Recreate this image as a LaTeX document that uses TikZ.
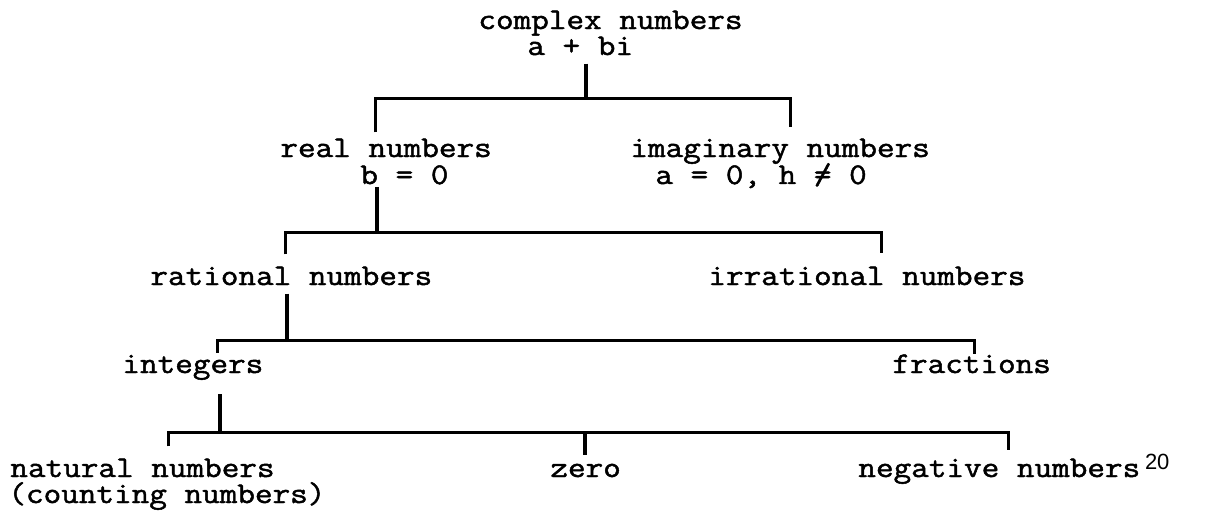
\documentclass[tikz,border=0pt]{standalone}
\usepackage{fontspec}
\newfontfamily\typefont[FakeBold=1.6,FakeStretch=1.14]{Latin Modern Mono}
\newfontfamily\notefont{Liberation Sans}
\usetikzlibrary{positioning}
\newcommand\neqtyped{\rlap{=}/}
\tikzset{
  lbl/.style={font=\typefont\fontsize{15}{18}\selectfont,inner sep=0pt,anchor=base west},
  note/.style={font=\notefont\fontsize{11}{13}\selectfont,inner sep=0pt,anchor=base west},
  stem/.style={line width=1.8pt},
  bar/.style={line width=1.5pt},
}
\begin{document}
\begin{tikzpicture}[x=0.5pt,y=-0.5pt]
  \useasboundingbox (0,0) rectangle (1207,514);
  % the sets, as typed
  \node[lbl] (cplx)  at (478,29)  {complex numbers};
  \node[lbl] (cplxf) at (527,55)  {a + bi};
  \node[lbl] (real)  at (280,157) {real numbers};
  \node[lbl] (realf) at (360,184) {b = 0};
  \node[lbl] (imag)  at (630,157) {imaginary numbers};
  \node[lbl] (imagf) at (655,184) {a = 0, h \neqtyped{} 0};
  \node[lbl] (rat)   at (150,285) {rational numbers};
  \node[lbl] (irr)   at (708,285) {irrational numbers};
  \node[lbl] (int)   at (122,373) {integers};
  \node[lbl] (frac)  at (892,373) {fractions};
  \node[lbl] (nat)   at (10,477)  {natural numbers};
  \node[lbl] (natc)  at (8,503)   {(counting numbers)};
  \node[lbl] (zero)  at (550,477) {zero};
  \node[lbl] (neg)   at (858,477) {negative numbers};
  \node[note] (negn) at ([xshift=2pt,yshift=4pt]neg.base east) {20};
  % brackets
  \coordinate (j1) at (586,98);  \coordinate (c1l) at (375,98);  \coordinate (c1r) at (790,98);
  \coordinate (j2) at (377,232); \coordinate (c2l) at (285,232); \coordinate (c2r) at (881,232);
  \coordinate (j3) at (287,340); \coordinate (c3l) at (217,340); \coordinate (c3r) at (974,340);
  \coordinate (j4) at (220,432); \coordinate (c4l) at (168,432); \coordinate (c4r) at (1008,432);
  \coordinate (c4m) at (585,432);
  \draw[stem,shorten <=4pt] (j1 |- cplxf.south) -- (j1);
  \draw[bar,shorten <=3pt,shorten >=5.5pt] (c1l |- real.north) -- (c1l) -- (c1r) -- (c1r |- imag.north);
  \draw[stem,shorten <=1pt] (j2 |- realf.south) -- (j2);
  \draw[bar,shorten <=6pt,shorten >=6.5pt] (c2l |- rat.north) -- (c2l) -- (c2r) -- (c2r |- irr.north);
  \draw[stem,shorten <=4pt] (j3 |- rat.south) -- (j3);
  \draw[bar,shorten <=1pt,shorten >=0pt] (c3l |- int.north) -- (c3l) -- (c3r) -- (c3r |- frac.north);
  \draw[stem,shorten <=7pt] (j4 |- int.south) -- (j4);
  \draw[bar,shorten <=6pt,shorten >=4pt] (c4l |- nat.north) -- (c4l) -- (c4r) -- (c4r |- neg.north);
  \draw[stem,shorten >=4pt] (c4m) -- (c4m |- zero.north);
\end{tikzpicture}
\end{document}
